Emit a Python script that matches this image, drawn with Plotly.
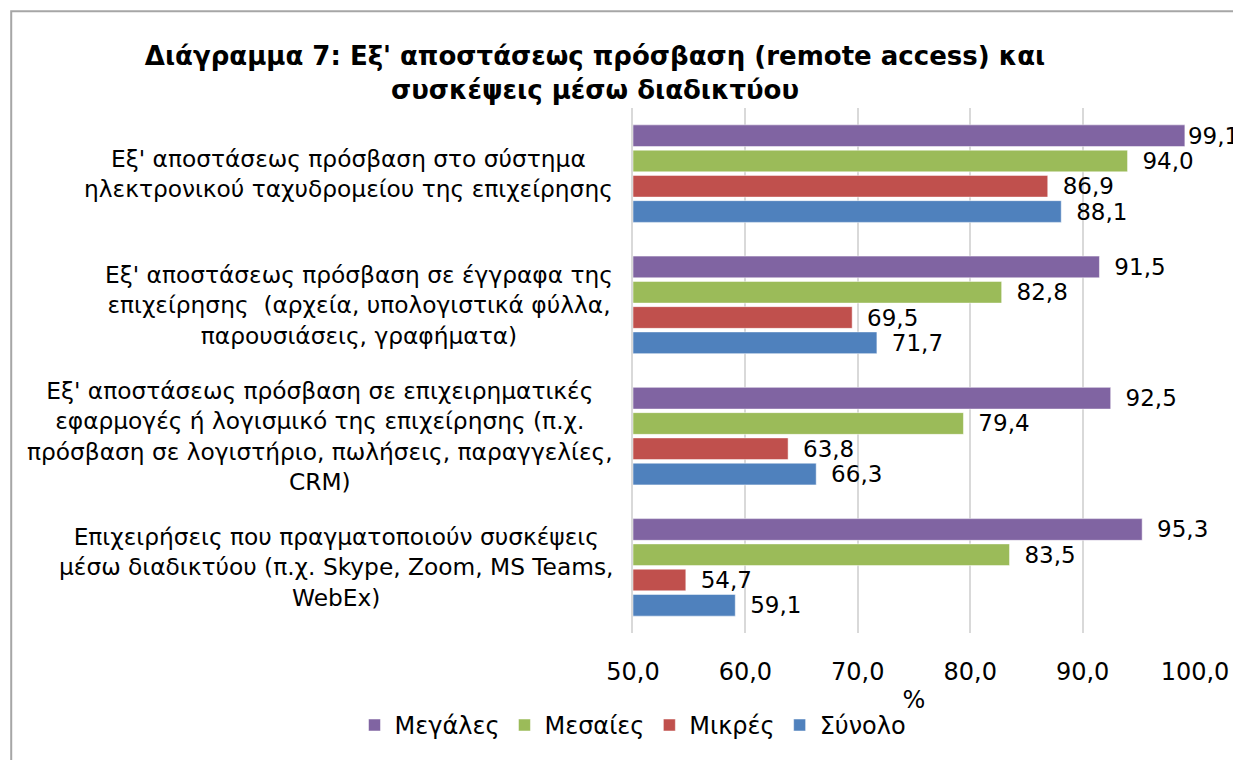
import plotly.graph_objects as go

categories = [
    "Εξ' αποστάσεως πρόσβαση στο σύστημα<br>ηλεκτρονικού ταχυδρομείου της επιχείρησης",
    "Εξ' αποστάσεως πρόσβαση σε έγγραφα της<br>επιχείρησης  (αρχεία, υπολογιστικά φύλλα,<br>παρουσιάσεις, γραφήματα)",
    "Εξ' αποστάσεως πρόσβαση σε επιχειρηματικές<br>εφαρμογές ή λογισμικό της επιχείρησης (π.χ.<br>πρόσβαση σε λογιστήριο, πωλήσεις, παραγγελίες,<br>CRM)",
    "Επιχειρήσεις που πραγματοποιούν συσκέψεις<br>μέσω διαδικτύου (π.χ. Skype, Zoom, MS Teams,<br>WebEx)",
]
series_names = ["Μεγάλες", "Μεσαίες", "Μικρές", "Σύνολο"]
megales = [99.1, 91.5, 92.5, 95.3]
mesaies = [94.0, 82.8, 79.4, 83.5]
mikres = [86.9, 69.5, 63.8, 54.7]
synolo = [88.1, 71.7, 66.3, 59.1]
colors = ["#8064A2", "#9BBB59", "#C0504D", "#4F81BD"]
tick_vals = [50, 60, 70, 80, 90, 100]
axis_min = 50
axis_max = 100

FONT = "DejaVu Sans"
FIG_W, FIG_H = 1233, 752  # page body adds an 8px margin

# plot area in figure pixels
L, R, T, B = 625, 1189, 100, 632
W = R - L
H = B - T


def px(x):
    return (x - L) / W


def py(y):
    return (B - y) / H


def label(v):
    s = f"{v:.1f}".replace(".", ",")
    # leave a gap after the bar unless the label would run past the chart edge
    return s if v > axis_max - 3 else "\u00a0\u2009" + s


fig = go.Figure()
for name, vals, col in zip(series_names, [megales, mesaies, mikres, synolo], colors):
    fig.add_trace(go.Bar(
        name=name,
        y=categories,
        x=[v - axis_min for v in vals],
        base=axis_min,
        orientation="h",
        marker=dict(color=col, line=dict(color="rgba(255,255,255,0.5)", width=1)),
        text=[label(v) for v in vals],
        textposition="outside",
        textfont=dict(family=FONT, size=23, color="black"),
        constraintext="none",
        cliponaxis=False,
        hoverinfo="skip",
    ))

for c in categories:
    fig.add_annotation(
        x=px(607), xref="paper", y=c, yref="y",
        text=c, showarrow=False, xanchor="right", yanchor="middle",
        align="center", font=dict(family=FONT, size=23.3, color="black"),
    )

# outer border of the chart
fig.add_shape(type="rect", xref="paper", yref="paper",
              x0=px(1), x1=px(1300), y0=py(2), y1=py(800),
              line=dict(color="#A6A6A6", width=2), fillcolor="rgba(0,0,0,0)", layer="below")

fig.update_layout(
    width=FIG_W, height=FIG_H, autosize=False,
    margin=dict(l=L, r=FIG_W - R, t=T, b=FIG_H - B, pad=0),
    paper_bgcolor="white", plot_bgcolor="white",
    separators=",.",
    barmode="group", bargap=0.23, bargroupgap=0.14,
    font=dict(family=FONT, size=24, color="black"),
    title=dict(
        text="<b>Διάγραμμα 7: Εξ' αποστάσεως πρόσβαση (remote access) και<br>συσκέψεις μέσω διαδικτύου</b>",
        x=587 / FIG_W, xanchor="center", y=1 - 57 / FIG_H, yanchor="top",
        font=dict(family=FONT, size=26, color="black"),
    ),
    xaxis=dict(
        range=[axis_min, axis_max], tickvals=tick_vals, tickformat=".1f",
        showgrid=True, gridcolor="#D9D9D9", gridwidth=2,
        zeroline=False, showline=False, ticks="",
        ticklabelstandoff=22,
        tickfont=dict(family=FONT, size=24, color="black"),
        title=dict(text="%", font=dict(family=FONT, size=24, color="black"), standoff=6),
    ),
    yaxis=dict(
        autorange="reversed", showticklabels=False, ticks="",
        showgrid=False, zeroline=False,
        showline=True, linecolor="#D9D9D9", linewidth=2,
    ),
    legend=dict(
        orientation="h", x=0, xanchor="center", y=-0.176, yanchor="middle",
        traceorder="normal", itemwidth=30,
        font=dict(family=FONT, size=24, color="black"),
    ),
    showlegend=True,
)

fig.write_html("out.html")
